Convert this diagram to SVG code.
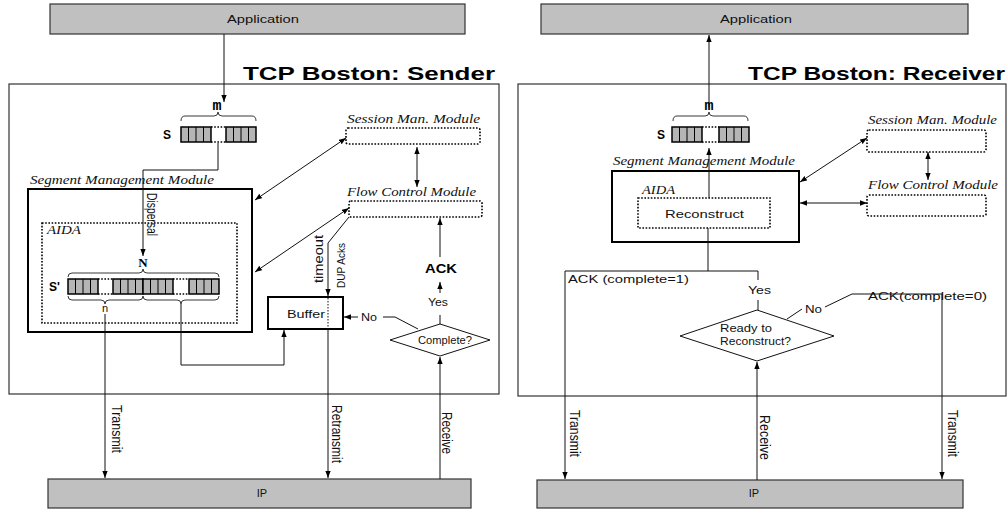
<svg xmlns="http://www.w3.org/2000/svg" xmlns:xlink="http://www.w3.org/1999/xlink" width="1008" height="509" viewBox="0 0 1008 509">
<style>
.t{font-family:"Liberation Sans",Arial,sans-serif;font-size:11px;fill:#111}
.i{font-family:"Liberation Serif","Times New Roman",serif;font-style:italic;font-size:12px;fill:#111}
.ttl{font-family:"Liberation Sans",Arial,sans-serif;font-weight:bold;font-size:18.5px;fill:#000}
.b{font-family:"Liberation Sans",Arial,sans-serif;font-weight:bold;font-size:12px;fill:#000}
.sb{font-family:"Liberation Serif","Times New Roman",serif;font-weight:bold;font-size:13px;fill:#000}
.mono{font-family:"Liberation Mono","Courier New",monospace;font-weight:bold;font-size:15px;fill:#000}
.gray{fill:#c0c0c0;stroke:#333;stroke-width:1.2}
.outer{fill:#fff;stroke:#333;stroke-width:1.2}
.thick{fill:#fff;stroke:#000;stroke-width:2}
.dot{fill:none;stroke:#000;stroke-width:1.6;stroke-dasharray:1.6 1.6}
.ln{fill:none;stroke:#111;stroke-width:1}
.br{fill:none;stroke:#222;stroke-width:0.9}
.arr{marker-end:url(#ah)}
.arr2{marker-end:url(#ah);marker-start:url(#ah)}
</style>
<defs>
<marker id="ah" viewBox="0 0 10 10" refX="10" refY="5" markerWidth="7" markerHeight="7" markerUnits="userSpaceOnUse" orient="auto-start-reverse"><path d="M0,1.2 L10,5 L0,8.8 z" fill="#000"/></marker>
<g id="blk"><rect width="30" height="15" fill="#b5b5b5" stroke="#000" stroke-width="1.5"/><path d="M7.5,0V15M15,0V15M22.5,0V15" stroke="#000" stroke-width="1"/></g>
</defs>

<!-- ============ SENDER ============ -->
<g id="sender-frame">
<rect class="outer" x="9" y="84" width="490" height="310"/>
<text class="ttl" x="243" y="80" textLength="252" lengthAdjust="spacingAndGlyphs">TCP Boston: Sender</text>
</g>
<g id="s-app"><rect class="gray" x="50" y="4" width="415" height="30"/><text class="t" x="227" y="23" textLength="72" lengthAdjust="spacingAndGlyphs">Application</text></g>
<g id="s-ip"><rect class="gray" x="48" y="479" width="423" height="29"/><text class="t" x="262" y="497" text-anchor="middle">IP</text></g>

<g id="s-S">
<text class="b" x="163" y="139">S</text>
<use xlink:href="#blk" x="181" y="127"/>
<use xlink:href="#blk" x="226" y="127"/>
<path class="dot" d="M211,127H226M211,142H226"/>
<path class="br" d="M181,121 Q181,116 185,116 H214 Q218,116 218,112 Q218,116 222,116 H252 Q256,116 256,121"/>
<text class="mono" x="217" y="110" text-anchor="middle">m</text>
</g>

<g id="s-session">
<text class="i" x="347" y="123" textLength="133" lengthAdjust="spacingAndGlyphs">Session Man. Module</text>
<rect class="dot" x="346" y="128" width="134" height="16" rx="2"/>
</g>
<g id="s-flow">
<text class="i" x="347" y="196" textLength="129" lengthAdjust="spacingAndGlyphs">Flow Control Module</text>
<rect class="dot" x="349" y="201" width="133" height="16" rx="2"/>
</g>

<g id="s-smm">
<text class="i" x="30" y="184" textLength="184" lengthAdjust="spacingAndGlyphs">Segment Management Module</text>
<rect class="thick" x="28" y="189" width="224" height="143"/>
</g>
<g id="s-aida">
<rect class="dot" x="42" y="223" width="195" height="100"/>
<text class="i" x="47" y="234" textLength="34" lengthAdjust="spacingAndGlyphs">AIDA</text>
</g>
<g id="s-Sprime">
<text class="sb" x="143" y="267" text-anchor="middle">N</text>
<path class="br" d="M68,277 Q68,273 72,273 H139 Q143,273 143,269 Q143,273 147,273 H215 Q219,273 219,277"/>
<text class="b" x="49" y="291">S'</text>
<use xlink:href="#blk" x="68" y="279"/>
<use xlink:href="#blk" x="113" y="279"/>
<use xlink:href="#blk" x="143" y="279"/>
<use xlink:href="#blk" x="189" y="279"/>
<path class="dot" d="M98,279H113M98,294H113M173,279H189M173,294H189"/>
<path class="br" d="M68,296 Q68,300 72,300 H101 Q105,300 105,304 Q105,300 109,300 H139 Q143,300 143,296"/>
<path class="br" d="M143,296 Q143,300 147,300 H177 Q181,300 181,304 Q181,300 185,300 H215 Q219,300 219,296"/>
<text class="t" x="105" y="312" text-anchor="middle">n</text>
</g>

<g id="s-buffer">
<rect class="thick" x="268" y="297" width="75" height="32" stroke-width="1.8"/>
<text class="t" x="287" y="318" textLength="38" lengthAdjust="spacingAndGlyphs">Buffer</text>
</g>
<g id="s-ack"><text class="b" x="425" y="273" textLength="32" lengthAdjust="spacingAndGlyphs">ACK</text></g>
<g id="s-complete">
<polygon points="390,340 440,324 490,340 440,356" fill="#fff" stroke="#111" stroke-width="1"/>
<text class="t" x="418" y="344" textLength="54" lengthAdjust="spacingAndGlyphs">Complete?</text>
</g>

<g id="s-connectors">
<path class="ln arr" d="M224,34 V102"/>
<path class="ln arr" d="M218,143 V170 H143 V256"/>
<path class="ln arr2" d="M346,138 L255,200"/>
<path class="ln arr2" d="M349,208 L255,272"/>
<path class="ln arr2" d="M417,147 V187"/>
<path class="ln arr" d="M349,217 L328,243 V296"/>
<path class="ln" d="M328,298 V329" stroke-dasharray="1.5 1.5"/>
<path class="ln arr" d="M328,329 V478"/>
<path class="ln arr" d="M105,314 V478"/>
<path class="ln arr" d="M181,304 V365 H284 V330"/>
<path class="ln arr" d="M440,479 V357" stroke="#444"/>
<path class="ln" d="M440,324 V315"/>
<path class="ln arr" d="M440,293 V282"/>
<path class="ln arr" d="M440,257 V218" stroke="#444"/>
<path class="ln" d="M418,329 L395,317 H383"/>
<path class="ln arr" d="M358,317 H344"/>
<text class="t" x="361" y="321" textLength="16" lengthAdjust="spacingAndGlyphs">No</text>
<text class="t" x="428" y="306" textLength="20" lengthAdjust="spacingAndGlyphs">Yes</text>
<text class="t" transform="translate(147,193) rotate(90) scale(1,1.25)" textLength="43" lengthAdjust="spacingAndGlyphs">Dispersal</text>
<text class="t" transform="translate(323,283) rotate(-90) scale(1,1.2)" textLength="48" lengthAdjust="spacingAndGlyphs">timeout</text>
<text class="t" transform="translate(345,288) rotate(-90)" textLength="45" lengthAdjust="spacingAndGlyphs">DUP Acks</text>
<text class="t" transform="translate(112,405) rotate(90) scale(1,1.3)" textLength="48" lengthAdjust="spacingAndGlyphs">Transmit</text>
<text class="t" transform="translate(332,405) rotate(90) scale(1,1.3)" textLength="58" lengthAdjust="spacingAndGlyphs">Retransmit</text>
<text class="t" transform="translate(442,412) rotate(90) scale(1,1.3)" textLength="42" lengthAdjust="spacingAndGlyphs">Receive</text>
</g>

<!-- ============ RECEIVER ============ -->
<g id="receiver-frame">
<rect class="outer" x="518" y="84" width="488" height="312"/>
<text class="ttl" x="748" y="80" textLength="257" lengthAdjust="spacingAndGlyphs">TCP Boston: Receiver</text>
</g>
<g id="r-app"><rect class="gray" x="541" y="4" width="427" height="30"/><text class="t" x="720" y="23" textLength="72" lengthAdjust="spacingAndGlyphs">Application</text></g>
<g id="r-ip"><rect class="gray" x="537" y="480" width="426" height="28"/><text class="t" x="754" y="497" text-anchor="middle">IP</text></g>

<g id="r-S">
<text class="b" x="657" y="139">S</text>
<use xlink:href="#blk" x="672" y="127"/>
<use xlink:href="#blk" x="719" y="127"/>
<path class="dot" d="M702,127H719M702,142H719"/>
<path class="br" d="M673,121 Q673,116 677,116 H705 Q709,116 709,112 Q709,116 713,116 H744 Q748,116 748,121"/>
<text class="mono" x="709" y="110" text-anchor="middle">m</text>
</g>
<g id="r-session">
<text class="i" x="868" y="124" textLength="129" lengthAdjust="spacingAndGlyphs">Session Man. Module</text>
<rect class="dot" x="867" y="130" width="119" height="22" rx="2"/>
</g>
<g id="r-flow">
<text class="i" x="868" y="189" textLength="130" lengthAdjust="spacingAndGlyphs">Flow Control Module</text>
<rect class="dot" x="867" y="195" width="119" height="21" rx="2"/>
</g>
<g id="r-smm">
<rect class="thick" x="612" y="171" width="187" height="71"/>
<text class="i" x="613" y="165" textLength="182" lengthAdjust="spacingAndGlyphs">Segment Management Module</text>
</g>
<g id="r-aida">
<rect class="dot" x="638" y="198" width="132" height="30"/>
<text class="i" x="642" y="194" textLength="33" lengthAdjust="spacingAndGlyphs">AIDA</text>
<text class="t" x="665" y="218" textLength="79" lengthAdjust="spacingAndGlyphs" font-size="12">Reconstruct</text>
</g>
<g id="r-ready">
<polygon points="680,336 757,310 834,336 757,361" fill="#fff" stroke="#111" stroke-width="1"/>
<text class="t" x="720" y="332" textLength="52" lengthAdjust="spacingAndGlyphs" font-size="10.5">Ready to</text>
<text class="t" x="720" y="345" textLength="71" lengthAdjust="spacingAndGlyphs" font-size="10.5">Reconstruct?</text>
</g>

<g id="r-connectors">
<path class="ln arr" d="M709,107 V35"/>
<path class="ln arr" d="M709,198 V148"/>
<path class="ln arr2" d="M800,182 L867,138"/>
<path class="ln arr2" d="M800,203 H867"/>
<path class="ln arr2" d="M928,152 V180"/>
<path class="ln" d="M708,228 V271 M565,271 H758 V280 M758,300 V310"/>
<path class="ln arr" d="M565,271 V479"/>
<path class="ln" d="M787,319 L802,309"/>
<path class="ln arr" d="M825,307 L852,294 H942 V479"/>
<path class="ln arr" d="M757,480 V362"/>
<text class="t" x="568" y="283" textLength="121" lengthAdjust="spacingAndGlyphs">ACK (complete=1)</text>
<text class="t" x="868" y="300" textLength="119" lengthAdjust="spacingAndGlyphs">ACK(complete=0)</text>
<text class="t" x="748" y="294" textLength="23" lengthAdjust="spacingAndGlyphs">Yes</text>
<text class="t" x="805" y="313" textLength="17" lengthAdjust="spacingAndGlyphs">No</text>
<text class="t" transform="translate(570,410) rotate(90) scale(1,1.3)" textLength="47" lengthAdjust="spacingAndGlyphs">Transmit</text>
<text class="t" transform="translate(760,415) rotate(90) scale(1,1.3)" textLength="45" lengthAdjust="spacingAndGlyphs">Receive</text>
<text class="t" transform="translate(948,410) rotate(90) scale(1,1.3)" textLength="47" lengthAdjust="spacingAndGlyphs">Transmit</text>
</g>
</svg>
